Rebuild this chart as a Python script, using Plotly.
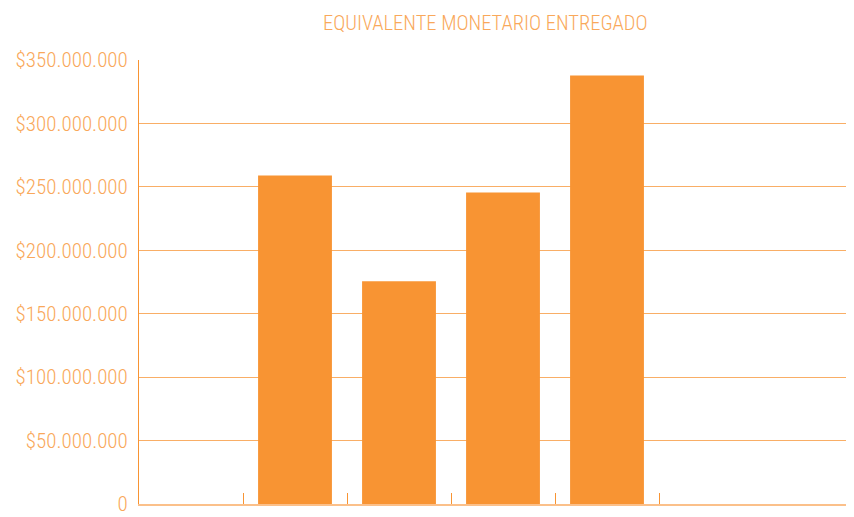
import plotly.graph_objects as go

# Data
categories = [1, 2, 3, 4]
values = [259_000_000, 175_500_000, 245_500_000, 337_800_000]
y_tickvals = [0, 50e6, 100e6, 150e6, 200e6, 250e6, 300e6, 350e6]
y_ticktext = ["0", "$50.000.000", "$100.000.000", "$150.000.000", "$200.000.000",
              "$250.000.000", "$300.000.000", "$350.000.000"]
x_boundaries = [0.5, 1.5, 2.5, 3.5, 4.5]

BAR = "#F89433"
TXT = "#F9A85A"
FONT = "'Roboto Condensed', Roboto, sans-serif"

fig = go.Figure()
fig.add_trace(go.Bar(x=categories, y=values, width=0.71, marker=dict(color=BAR, line=dict(width=0)),
                     hoverinfo="skip"))

fig.update_layout(
    width=846, height=509,
    margin=dict(l=131, r=0, t=52, b=13),
    paper_bgcolor="white", plot_bgcolor="white",
    showlegend=False,
    font=dict(family=FONT, color=TXT),
    annotations=[dict(text="EQUIVALENTE MONETARIO ENTREGADO", xref="paper", yref="paper",
                      x=0.484, y=1, yshift=37.5, xanchor="center", yanchor="middle",
                      showarrow=False, font=dict(family=FONT, size=20.5, color=TXT, weight=300))],
)
fig.update_xaxes(range=[-0.5, 6.375], tickvals=x_boundaries, showticklabels=False,
                 ticks="inside", ticklen=11, tickwidth=1, tickcolor=BAR,
                 showgrid=False, zeroline=False, showline=True, linecolor="#FBC08A", linewidth=2)
fig.update_yaxes(range=[0, 350e6], tickvals=y_tickvals, ticktext=y_ticktext, automargin=False,
                 tickfont=dict(family=FONT, size=21, color=TXT, weight=300), ticks="", ticklabelstandoff=6,
                 showgrid=True, gridcolor="#F9AE66", gridwidth=1, zeroline=False,
                 showline=True, linecolor=BAR, linewidth=1)

fig.write_html("out.html")
